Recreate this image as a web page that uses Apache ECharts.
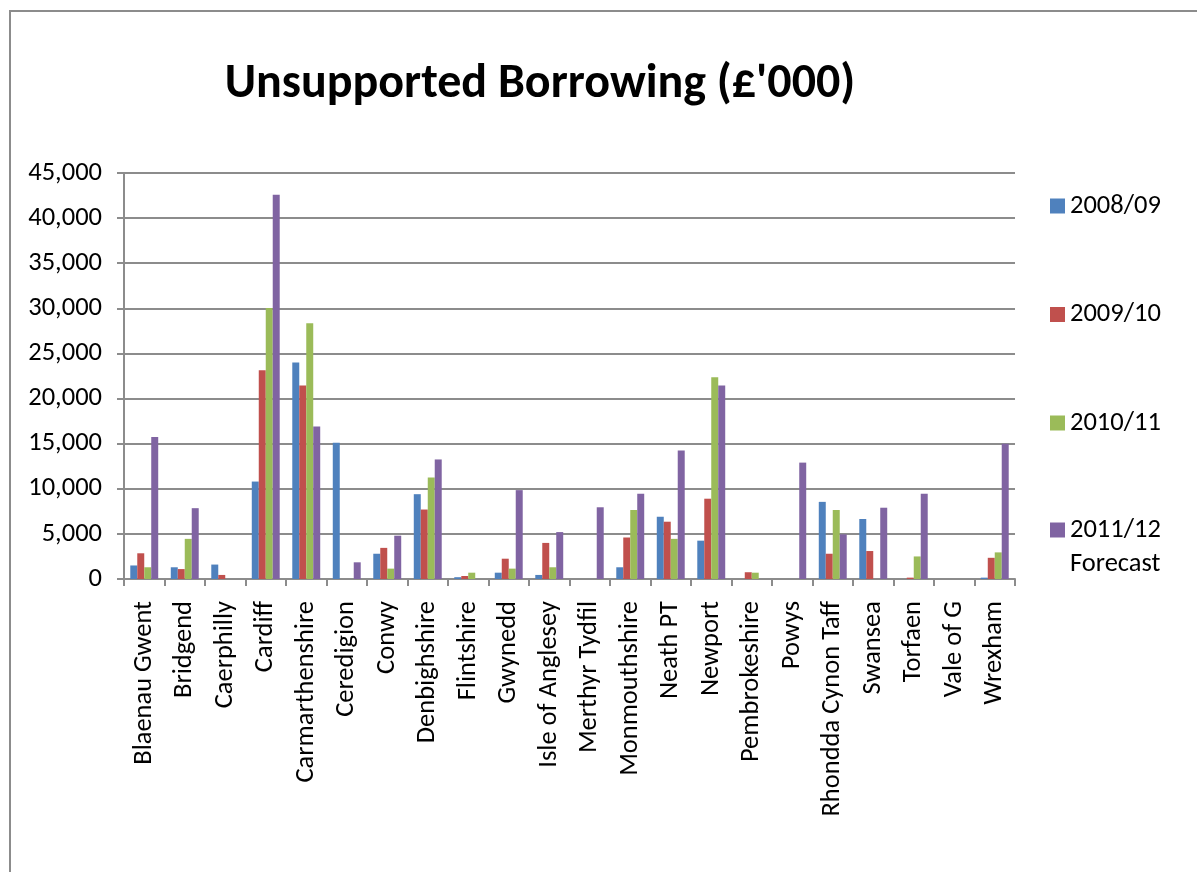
<!DOCTYPE html>
<html>
<head>
<meta charset="utf-8">
<script src="https://cdn.jsdelivr.net/npm/echarts@6/dist/echarts.min.js"></script>
<style>
  html, body { margin: 0; padding: 0; background: #fff; }
  #chart { width: 1197px; height: 872px; }
</style>
</head>
<body>
<div id="chart"></div>
<script>
// Welsh local authorities
const categories = ['Blaenau Gwent', 'Bridgend', 'Caerphilly', 'Cardiff', 'Carmarthenshire', 'Ceredigion',
  'Conwy', 'Denbighshire', 'Flintshire', 'Gwynedd', 'Isle of Anglesey', 'Merthyr Tydfil', 'Monmouthshire',
  'Neath PT', 'Newport', 'Pembrokeshire', 'Powys', 'Rhondda Cynon Taff', 'Swansea', 'Torfaen', 'Vale of G', 'Wrexham'];

// Unsupported borrowing, £'000
const y2008 = [1500, 1300, 1600, 10800, 24000, 15100, 2800, 9400, 200, 700, 450, 0, 1300, 6900, 4250, 0, 0, 8550, 6650, 0, 0, 150];
const y2009 = [2850, 1100, 450, 23150, 21450, 0, 3450, 7700, 330, 2250, 4000, 0, 4600, 6350, 8900, 750, 0, 2800, 3100, 150, 0, 2350];
const y2010 = [1300, 4450, 0, 30050, 28350, 0, 1150, 11250, 700, 1150, 1300, 0, 7650, 4450, 22350, 700, 0, 7650, 0, 2500, 0, 2950];
const y2011 = [15750, 7850, 0, 42600, 16900, 1850, 4800, 13250, 0, 9850, 5200, 7950, 9450, 14250, 21450, 0, 12900, 4950, 7900, 9450, 0, 15000];

const seriesNames = ['2008/09', '2009/10', '2010/11', '2011/12'];
const colors = ['#4F81BD', '#C0504D', '#9BBB59', '#8064A2'];

const FONT = 'Carlito, Calibri, Lato, sans-serif';
const LABEL_SIZE = 26.5;
const chart = echarts.init(document.getElementById('chart'));

const legendText = { fontFamily: FONT, fontSize: LABEL_SIZE, color: '#000', lineHeight: 34 };

chart.setOption({
  animation: false,
  color: colors,
  title: {
    text: "Unsupported Borrowing (£'000)",
    left: 535,
    textAlign: 'center',
    top: 56,
    textStyle: { fontFamily: FONT, fontSize: 48, fontWeight: 'bold', color: '#000' }
  },
  graphic: [{
    type: 'rect',
    shape: { x: 10, y: 11, width: 1400, height: 1000 },
    style: { fill: 'none', stroke: '#8c8c8c', lineWidth: 2 },
    silent: true
  }],
  legend: [{
    orient: 'vertical',
    left: 1045,
    top: 184,
    itemWidth: 15,
    itemHeight: 15,
    itemGap: 74.5,
    icon: 'rect',
    data: seriesNames.slice(0, 3),
    textStyle: legendText
  }, {
    orient: 'vertical',
    left: 1045,
    top: 474,
    itemWidth: 15,
    itemHeight: 15,
    icon: 'rect',
    data: [seriesNames[3]],
    formatter: () => '{e| }\n{a|2011/12}\n{a|Forecast}',
    textStyle: Object.assign({}, legendText, {
      rich: {
        e: { fontFamily: FONT, fontSize: LABEL_SIZE, lineHeight: 34 },
        a: { fontFamily: FONT, fontSize: LABEL_SIZE, lineHeight: 34, color: '#000' }
      }
    })
  }],
  grid: { left: 124, right: 182, top: 173, bottom: 293, containLabel: false },
  xAxis: {
    type: 'category',
    data: categories,
    axisLine: { lineStyle: { color: '#8c8c8c', width: 2 } },
    axisTick: { show: true, length: 7, lineStyle: { color: '#8c8c8c', width: 2 } },
    axisLabel: {
      rotate: 90, interval: 0, margin: 22,
      fontFamily: FONT, fontSize: LABEL_SIZE, color: '#000'
    }
  },
  yAxis: {
    type: 'value',
    min: 0, max: 45000, interval: 5000,
    axisLine: { show: true, lineStyle: { color: '#8c8c8c', width: 2 } },
    axisTick: { show: true, length: 7, lineStyle: { color: '#8c8c8c', width: 2 } },
    splitLine: { lineStyle: { color: '#8c8c8c', width: 2 } },
    axisLabel: {
      margin: 22,
      fontFamily: FONT, fontSize: LABEL_SIZE, color: '#000',
      formatter: v => v.toLocaleString('en-GB')
    }
  },
  series: [y2008, y2009, y2010, y2011].map((d, i) => ({
    name: seriesNames[i],
    type: 'bar',
    data: d,
    barGap: '0%',
    barCategoryGap: '31%'
  }))
});
</script>
</body>
</html>
